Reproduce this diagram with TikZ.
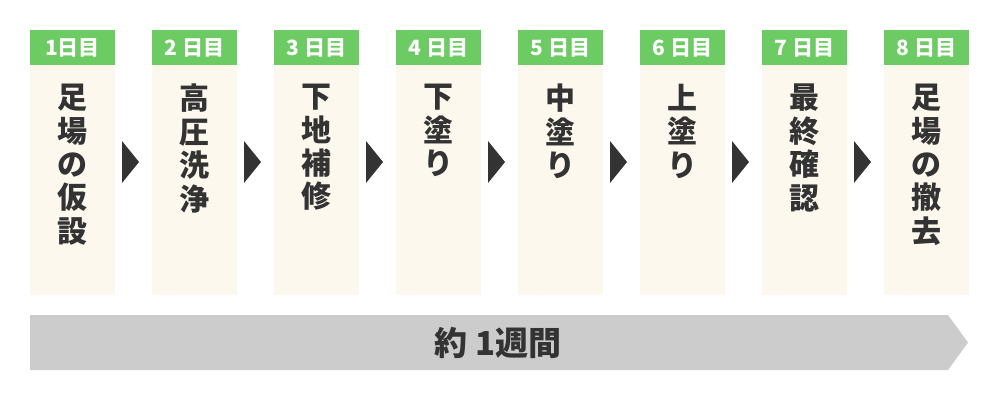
\documentclass[tikz,border=0pt]{standalone}
\usepackage{fontspec}
\newfontfamily\jp{Noto Sans CJK JP}
\definecolor{tabgreen}{HTML}{6DCB63}
\definecolor{cream}{HTML}{FDF8EE}
\definecolor{darkg}{HTML}{333333}
\definecolor{bargrey}{HTML}{CCCCCC}
\tikzset{
  tabbox/.style={fill=tabgreen, minimum width=85pt, minimum height=35pt, inner sep=0pt,
    text=white, font={\jp\bfseries\fontsize{21}{24}\selectfont}},
  bodybox/.style={fill=cream, minimum width=85pt, minimum height=230pt, inner sep=0pt},
  vtext/.style={align=center, inner sep=0pt, text=darkg, font={\jp\bfseries\fontsize{30}{33.4}\selectfont}},
  steparrow/.style={fill=darkg},
  weekbar/.style={fill=bargrey},
  weektext/.style={text=darkg, inner sep=0pt, font={\jp\bfseries\fontsize{33}{36}\selectfont}}
}
\begin{document}
\begin{tikzpicture}[x=1pt,y=-1pt]
\useasboundingbox (0,0) rectangle (1000,400);
\foreach \i/\tab/\txt in {1/1日目/足\\場\\の\\仮\\設, 2/2 日目/高\\圧\\洗\\浄, 3/3 日目/下\\地\\補\\修, 4/4 日目/下\\塗\\り, 5/5 日目/中\\塗\\り, 6/6 日目/上\\塗\\り, 7/7 日目/最\\終\\確\\認, 8/8 日目/足\\場\\の\\撤\\去}{
  \pgfmathsetmacro{\cx}{30+(\i-1)*122+42.5}
  \node[tabbox] (t\i) at (\cx,47.5) {\tab};
  \node[bodybox, anchor=north] (b\i) at (t\i.south) {};
  \node[vtext, anchor=north] (v\i) at (\cx,84) {\txt};
}
\foreach \i in {1,...,7}{
  \pgfmathsetmacro{\ax}{30+(\i-1)*122+92}
  \coordinate (a\i) at (\ax,141);
  \fill[steparrow] (a\i) -- ++(17,21) -- ++(-17,21) -- cycle;
}
\coordinate (w1) at (30,315);
\fill[weekbar] (w1) -- ++(918,0) -- ++(20,27.5) -- ++(-20,27.5) -- ++(-918,0) -- cycle;
\node[weektext] (week) at (498,343) {約 1週間};
\end{tikzpicture}
\end{document}
